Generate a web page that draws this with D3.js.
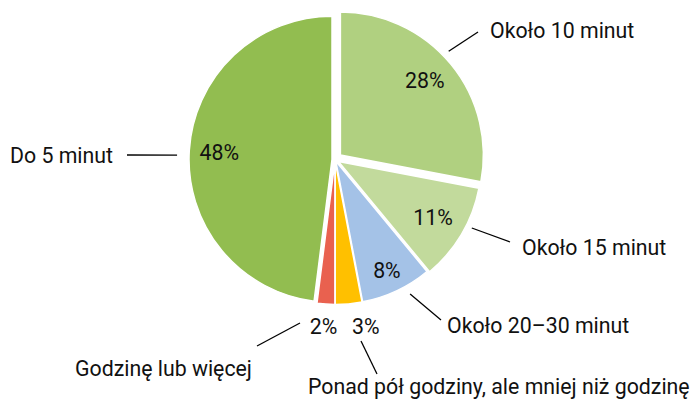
<!DOCTYPE html>
<html>
<head>
<meta charset="utf-8">
<script src="https://cdn.jsdelivr.net/npm/d3@7"></script>
<style>
  body { margin: 0; background: #fff; }
  text { font-family: Roboto, "Noto Sans", sans-serif; fill: #111; }
</style>
</head>
<body>
<svg width="693" height="401"></svg>
<script>
// dane wykresu (kolejność jak w oryginale, od godziny 12 zgodnie z ruchem wskazówek)
var categories = ["Około 10 minut", "Około 15 minut", "Około 20–30 minut",
                  "Ponad pół godziny, ale mniej niż godzinę", "Godzinę lub więcej", "Do 5 minut"];
var values = [28, 11, 8, 3, 2, 48];
var valueLabels = ["28%", "11%", "8%", "3%", "2%", "48%"];

// wygląd
var colors = ["#b0d080", "#c2da9c", "#a4c2e7", "#ffc000", "#e9614f", "#92bd50"];
var explode = [7, 4, 2, 2, 2, 3];
var cx = 335, cy = 159.5, r = 143;

// etykiety kategorii: pozycja tekstu, koniec linii odniesienia
var nameLayout = [
    { x: 490, y: 38, anchor: "start", lx: 478, ly: 32, la: -4, lr: 157 },
    { x: 522, y: 255, anchor: "start", lx: 510, ly: 242, la: -4, lr: 153 },
    { x: 447, y: 333, anchor: "start", lx: 441, ly: 320, la: -4, lr: 154 },
    { x: 308, y: 394, anchor: "start", fx: 361, fy: 341, lx: 377, ly: 374 },
    { x: 75, y: 376, anchor: "start", fx: 257, fy: 346, lx: 300, ly: 323 },
    { x: 113, y: 163, anchor: "end", lx: 127, ly: 155, la: -2, lr: 158 }
];
// etykiety procentowe: wewnątrz (promień) lub na zewnątrz
var valueLayout = [
    { inside: true, rr: 113, da: -2 },
    { inside: true, rr: 110, da: 0 },
    { inside: true, rr: 120, da: 0 },
    { inside: false, dx: 15, dy: 0, rr: 166 },
    { inside: false, dx: -1, dy: 0, rr: 165 },
    { inside: true, rr: 113, da: 0 }
];

var svg = d3.select("svg");
var fontSize = 21.3;

var pie = d3.pie().sort(null).value(function (d) { return d; });
var arcs = pie(values);
var arc = d3.arc().innerRadius(0).outerRadius(r);

function mid(d) { return (d.startAngle + d.endAngle) / 2; }
function polar(a, rad) { return [Math.sin(a) * rad, -Math.cos(a) * rad]; }

var g = svg.append("g").attr("transform", "translate(" + cx + "," + cy + ")");

// wycinki
g.selectAll("path.slice")
    .data(arcs)
    .enter()
    .append("path")
    .attr("class", "slice")
    .attr("transform", function (d, i) {
        var p = polar(mid(d), explode[i]);
        return "translate(" + p[0] + "," + p[1] + ")";
    })
    .attr("d", arc)
    .attr("fill", function (d, i) { return colors[i]; })
    .attr("stroke", "#fff")
    .attr("stroke-width", 1.5)
    .attr("stroke-linejoin", "round");

// etykiety procentowe
g.selectAll("text.val")
    .data(arcs)
    .enter()
    .append("text")
    .attr("class", "val")
    .attr("text-anchor", "middle")
    .attr("dy", "0.36em")
    .style("font-size", fontSize + "px")
    .attr("x", function (d, i) {
        var L = valueLayout[i];
        var a = mid(d) + (L.da || 0) * Math.PI / 180;
        return polar(a, L.rr)[0] + polar(mid(d), explode[i])[0] + (L.dx || 0);
    })
    .attr("y", function (d, i) {
        var L = valueLayout[i];
        var a = mid(d) + (L.da || 0) * Math.PI / 180;
        return polar(a, L.rr)[1] + polar(mid(d), explode[i])[1] + (L.dy || 0);
    })
    .text(function (d, i) { return valueLabels[i]; });

// linie odniesienia
svg.selectAll("line.leader")
    .data(arcs)
    .enter()
    .append("line")
    .attr("class", "leader")
    .attr("x1", function (d, i) {
        var L = nameLayout[i];
        if (L.fx !== undefined) return L.fx;
        return cx + polar(mid(d) + L.la * Math.PI / 180, L.lr)[0];
    })
    .attr("y1", function (d, i) {
        var L = nameLayout[i];
        if (L.fy !== undefined) return L.fy;
        return cy + polar(mid(d) + L.la * Math.PI / 180, L.lr)[1];
    })
    .attr("x2", function (d, i) { return nameLayout[i].lx; })
    .attr("y2", function (d, i) { return nameLayout[i].ly; })
    .attr("stroke", "#000")
    .attr("stroke-width", 1.3);

// nazwy kategorii
svg.selectAll("text.name")
    .data(categories)
    .enter()
    .append("text")
    .attr("class", "name")
    .style("font-size", fontSize + "px")
    .attr("text-anchor", function (d, i) { return nameLayout[i].anchor; })
    .attr("x", function (d, i) { return nameLayout[i].x; })
    .attr("y", function (d, i) { return nameLayout[i].y; })
    .text(function (d) { return d; });
</script>
</body>
</html>
